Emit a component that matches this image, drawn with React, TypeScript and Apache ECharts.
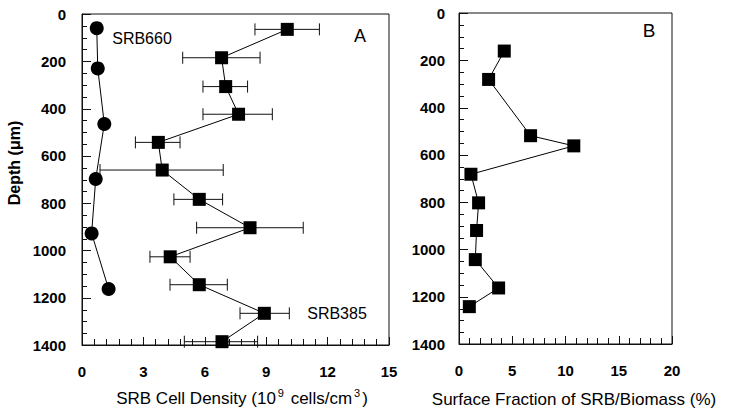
import React, { useEffect, useRef } from "react";
import * as echarts from "echarts";

// Panel A: SRB660 (circles)
const srb660Density = [0.72, 0.77, 1.09, 0.67, 0.47, 1.3];
const srb660Depth = [60, 230, 465, 698, 928, 1163];

// Panel A: SRB385 (squares with error bars)
const srb385Density = [10.03, 6.82, 7.02, 7.65, 3.73, 3.92, 5.73, 8.21, 4.31, 5.73, 8.91, 6.84];
const srb385Low = [8.45, 4.92, 5.91, 5.91, 2.61, 0.88, 4.49, 5.6, 3.32, 4.3, 7.72, 5.0];
const srb385High = [11.6, 8.7, 8.09, 9.3, 4.79, 6.9, 6.87, 10.81, 5.28, 7.1, 10.13, 8.58];
const srb385Depth = [65, 185, 307, 424, 543, 660, 784, 904, 1027, 1145, 1266, 1386];

// Panel B: surface fraction
const fractionValues = [4.25, 2.78, 6.72, 10.78, 1.12, 1.84, 1.65, 1.53, 3.72, 0.97];
const fractionDepth = [161, 281, 519, 562, 682, 803, 920, 1043, 1163, 1242];

// Depth axis tick positions (major every 200, minor every 50)
const depthTicks = [
  0, 50, 100, 150, 200, 250, 300, 350, 400, 450, 500, 550, 600, 650, 700,
  750, 800, 850, 900, 950, 1000, 1050, 1100, 1150, 1200, 1250, 1300, 1350, 1400,
];

const FONT = "Liberation Sans, Arial, Helvetica, sans-serif";

export default function App() {
  const ref = useRef<HTMLDivElement>(null);
  useEffect(() => {
    if (!ref.current) return;
    const chart = echarts.init(ref.current, undefined, { renderer: "svg" });

    const yAxisBase = (gridIndex: number, margin: number) => ({
      type: "value",
      gridIndex,
      position: "left",
      inverse: true,
      min: 0,
      max: 1400,
      interval: 200,
      axisLine: { show: true, onZero: false, lineStyle: { color: "#111", width: 1 } },
      axisTick: { show: false },
      minorTick: { show: false },
      splitLine: { show: false },
      axisLabel: {
        margin,
        color: "#000",
        fontSize: 15,
        fontWeight: "bold",
        fontFamily: FONT,
        formatter: (v: number) => String(v),
      },
    });

    const xAxisBase = (gridIndex: number, max: number, interval: number) => ({
      type: "value",
      gridIndex,
      position: "bottom",
      min: 0,
      max,
      interval,
      axisLine: { show: true, onZero: false, lineStyle: { color: "#111", width: 1 } },
      axisTick: { show: true, inside: true, length: 8, lineStyle: { color: "#111", width: 1 } },
      minorTick: { show: true, splitNumber: 5, length: 6, lineStyle: { color: "#111", width: 1 } },
      splitLine: { show: false },
      axisLabel: {
        margin: 19,
        color: "#000",
        fontSize: 15,
        fontWeight: "bold",
        fontFamily: FONT,
        formatter: (v: number) => String(v),
      },
    });

    const errData = srb385Depth.map((d, i) => [srb385Low[i], srb385High[i], d]);

    const textGraphics = [
      {
        type: "text",
        x: 14,
        y: 163,
        rotation: Math.PI / 2,
        style: {
          text: "Depth (μm)",
          font: `bold 16px ${FONT}`,
          fill: "#000",
          textAlign: "center",
          textVerticalAlign: "middle",
        },
      },
      {
        type: "text",
        x: 242,
        y: 398,
        style: {
          text: "{n|SRB Cell Density (10}{s|9}{n| cells/cm}{s|3}{n|)}",
          textAlign: "center",
          textVerticalAlign: "middle",
          fill: "#000",
          rich: {
            n: { fontSize: 17, fontFamily: FONT, fill: "#000" },
            s: { fontSize: 11, fontFamily: FONT, fill: "#000", padding: [0, 2, 10, 2] },
          },
        },
      },
      {
        type: "text",
        x: 574,
        y: 399,
        style: {
          text: "Surface Fraction of SRB/Biomass (%)",
          font: `17px ${FONT}`,
          fill: "#000",
          textAlign: "center",
          textVerticalAlign: "middle",
        },
      },
      {
        type: "text",
        x: 142,
        y: 38,
        style: { text: "SRB660", font: `16px ${FONT}`, fill: "#000", textAlign: "center", textVerticalAlign: "middle" },
      },
      {
        type: "text",
        x: 337,
        y: 313,
        style: { text: "SRB385", font: `16px ${FONT}`, fill: "#000", textAlign: "center", textVerticalAlign: "middle" },
      },
      {
        type: "text",
        x: 360,
        y: 36,
        style: { text: "A", font: `18px ${FONT}`, fill: "#000", textAlign: "center", textVerticalAlign: "middle" },
      },
      {
        type: "text",
        x: 649,
        y: 30,
        style: { text: "B", font: `19px ${FONT}`, fill: "#000", textAlign: "center", textVerticalAlign: "middle" },
      },
    ];

    chart.setOption({
      animation: false,
      backgroundColor: "#fff",
      grid: [
        { left: 82, top: 14, width: 307, height: 331, show: true, borderColor: "#111", borderWidth: 1, backgroundColor: "transparent" },
        { left: 459, top: 13, width: 213, height: 331, show: true, borderColor: "#111", borderWidth: 1, backgroundColor: "transparent" },
      ],
      xAxis: [xAxisBase(0, 15, 3), xAxisBase(1, 20, 5)],
      yAxis: [yAxisBase(0, 16), yAxisBase(1, 14)],
      series: [
        {
          type: "custom",
          xAxisIndex: 0,
          yAxisIndex: 0,
          data: errData,
          encode: { x: [0, 1], y: 2 },
          z: 1,
          renderItem: (params: any, api: any) => {
            const lo = api.coord([api.value(0), api.value(2)]);
            const hi = api.coord([api.value(1), api.value(2)]);
            const cap = 6;
            const style = { stroke: "#111", lineWidth: 1 };
            return {
              type: "group",
              children: [
                { type: "line", shape: { x1: lo[0], y1: lo[1], x2: hi[0], y2: hi[1] }, style },
                { type: "line", shape: { x1: lo[0], y1: lo[1] - cap, x2: lo[0], y2: lo[1] + cap }, style },
                { type: "line", shape: { x1: hi[0], y1: hi[1] - cap, x2: hi[0], y2: hi[1] + cap }, style },
              ],
            };
          },
        },
        {
          type: "line",
          name: "SRB660",
          xAxisIndex: 0,
          yAxisIndex: 0,
          data: srb660Density.map((v, i) => [v, srb660Depth[i]]),
          symbol: "circle",
          symbolSize: 14,
          itemStyle: { color: "#000" },
          lineStyle: { color: "#000", width: 1 },
          z: 3,
        },
        {
          type: "line",
          name: "SRB385",
          xAxisIndex: 0,
          yAxisIndex: 0,
          data: srb385Density.map((v, i) => [v, srb385Depth[i]]),
          symbol: "rect",
          symbolSize: 13,
          itemStyle: { color: "#000" },
          lineStyle: { color: "#000", width: 1 },
          z: 3,
        },
        {
          type: "line",
          name: "Fraction",
          xAxisIndex: 1,
          yAxisIndex: 1,
          data: fractionValues.map((v, i) => [v, fractionDepth[i]]),
          symbol: "rect",
          symbolSize: 13,
          itemStyle: { color: "#000" },
          lineStyle: { color: "#000", width: 1 },
          z: 3,
        },
      ],
      graphic: textGraphics,
    });

    // Depth-axis ticks, positioned through the chart's own scales
    const tickGraphics: any[] = [];
    [0, 1].forEach((gi) => {
      depthTicks.forEach((v) => {
        const p = chart.convertToPixel({ gridIndex: gi }, [0, v]) as number[];
        if (!p) return;
        const len = v % 200 === 0 ? 9 : 5;
        tickGraphics.push({
          type: "line",
          z: 100,
          shape: { x1: p[0], y1: Math.round(p[1]) + 0.5, x2: p[0] + len, y2: Math.round(p[1]) + 0.5 },
          style: { stroke: "#111", lineWidth: 1 },
        });
      });
    });
    chart.setOption({ graphic: [...textGraphics, ...tickGraphics] }, { replaceMerge: ["graphic"] });

    return () => chart.dispose();
  }, []);
  return (
    <div
      ref={ref}
      style={{ position: "fixed", left: 0, top: 0, width: 730, height: 417 }}
    />
  );
}
